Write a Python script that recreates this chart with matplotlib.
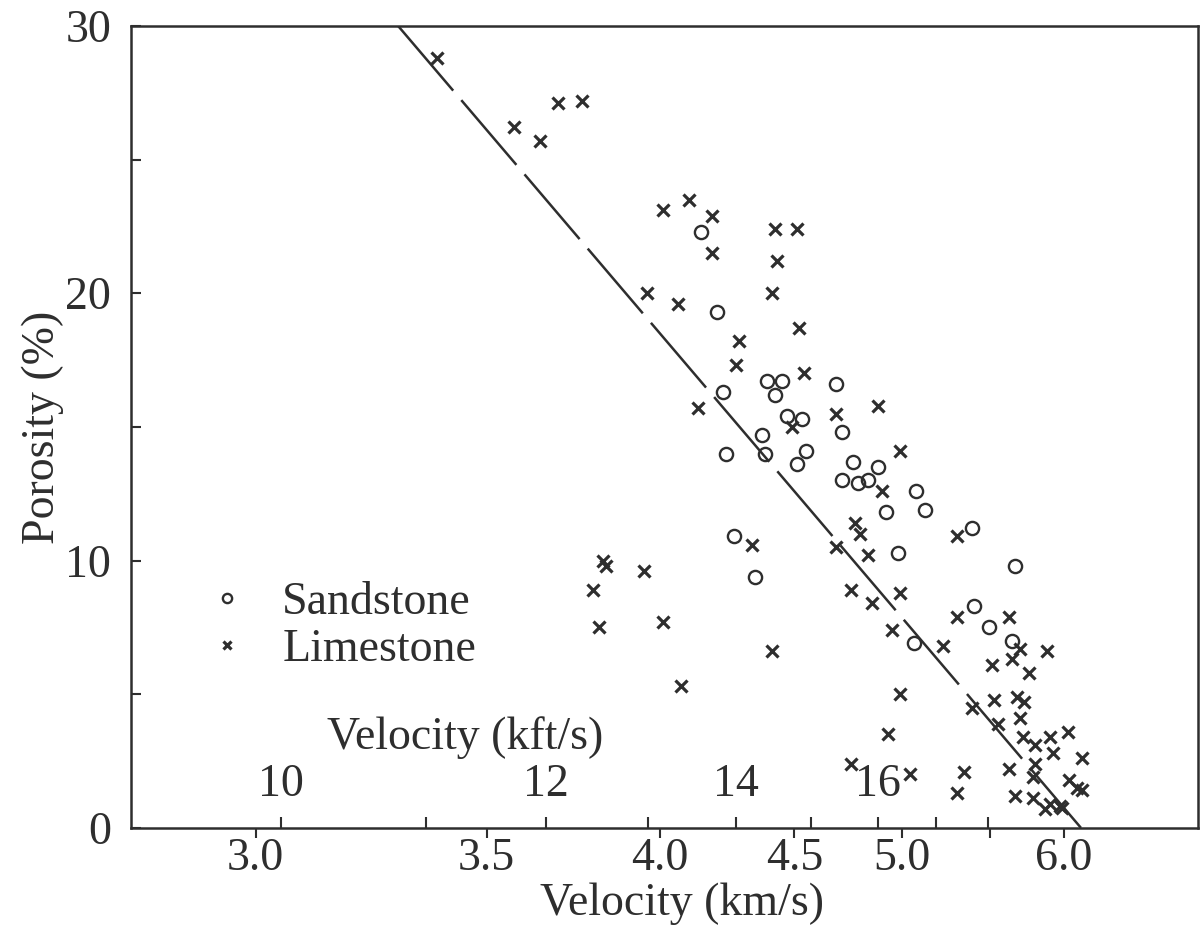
import numpy as np
import matplotlib
matplotlib.use("Agg")
from matplotlib import pyplot as plt

# velocity in km/s, porosity in %
sand_vel = [4.14, 4.20, 4.22, 4.39, 4.45, 4.42, 4.68, 4.47, 4.53, 4.37, 4.71,
            4.23, 4.38, 4.55, 4.51, 4.76, 4.88, 4.71, 4.78, 4.83, 5.07, 4.92,
            5.12, 4.98, 5.39, 5.66, 5.40, 5.49, 5.64, 5.06, 4.26, 4.34]
sand_por = [22.3, 19.3, 16.3, 16.7, 16.7, 16.2, 16.6, 15.4, 15.3, 14.7, 14.8,
            14.0, 14.0, 14.1, 13.6, 13.7, 13.5, 13.0, 12.9, 13.0, 12.6, 11.8,
            11.9, 10.3, 11.2, 9.8, 8.3, 7.5, 7.0, 6.9, 10.9, 9.4]

lime_vel = [3.38, 3.57, 3.64, 3.69, 3.76, 4.01, 4.10, 4.18, 4.18, 4.42, 4.51,
            4.43, 4.41, 3.96, 4.06, 4.52, 4.28, 4.27, 4.54, 4.88, 4.13, 4.68,
            4.49, 4.99, 4.90, 4.77, 4.79, 4.68, 4.83, 5.30, 4.33, 3.82, 3.83,
            3.95, 3.79, 3.81, 4.01, 4.41, 4.07, 4.75, 4.99, 4.85, 4.95, 5.30,
            5.62, 5.22, 5.69, 5.64, 5.88, 5.51, 5.75, 4.99, 5.52, 5.67, 5.72,
            5.39, 5.69, 5.55, 4.93, 5.71, 5.79, 5.90, 6.03, 5.92, 5.79, 5.62,
            6.14, 4.75, 5.04, 5.34, 5.30, 6.04, 6.10, 5.78, 5.66, 5.78, 6.14,
            5.90, 5.97, 5.99, 5.86]
lime_por = [28.8, 26.2, 25.7, 27.1, 27.2, 23.1, 23.5, 22.9, 21.5, 22.4, 22.4,
            21.2, 20.0, 20.0, 19.6, 18.7, 18.2, 17.3, 17.0, 15.8, 15.7, 15.5,
            15.0, 14.1, 12.6, 11.4, 11.0, 10.5, 10.2, 10.9, 10.6, 10.0, 9.8,
            9.6, 8.9, 7.5, 7.7, 6.6, 5.3, 8.9, 8.8, 8.4, 7.4, 7.9,
            7.9, 6.8, 6.7, 6.3, 6.6, 6.1, 5.8, 5.0, 4.8, 4.9, 4.7,
            4.5, 4.1, 3.9, 3.5, 3.4, 3.1, 3.4, 3.6, 2.8, 2.4, 2.2,
            2.6, 2.4, 2.0, 2.1, 1.3, 1.8, 1.5, 1.9, 1.2, 1.1, 1.4,
            0.9, 0.8, 0.75, 0.7]

# time-average line
line_vel = [3.29, 6.13]
line_por = [30, 0]

kms_ticks = [3.0, 3.5, 4.0, 4.5, 5.0, 5.5, 6.0]
kms_labels = ["3.0", "3.5", "4.0", "4.5", "5.0", "", "6.0"]
kft_ticks = [10, 11, 12, 13, 14, 15, 16, 17, 18]
kft_labels = ["10", "", "12", "", "14", "", "16", "", ""]
KFT_TO_KM = 0.3048

INK = "#2e2e2e"


def slowness(v):
    with np.errstate(divide="ignore"):
        return -1.0 / np.asarray(v, dtype=float)


def from_slowness(s):
    with np.errstate(divide="ignore"):
        return -1.0 / np.asarray(s, dtype=float)


def make_plot(out="out.png"):
    plt.rcParams["font.family"] = ["Liberation Serif", "DejaVu Serif"]
    plt.rcParams["font.size"] = 33
    plt.rcParams["text.color"] = INK
    plt.rcParams["axes.labelcolor"] = INK

    fig = plt.figure(figsize=(12, 9.25), dpi=100)
    ax = fig.add_axes([0.109, 0.105, 0.889, 0.867])
    ax.set_xscale("function", functions=(slowness, from_slowness))
    ax.set_xlim(2.785, 7.19)
    ax.set_ylim(0, 30)

    ax.plot(line_vel, line_por, color=INK, lw=1.8, dashes=(34, 5))
    ax.plot(sand_vel, sand_por, "o", ms=9.5, mfc="none", mec=INK, mew=1.7,
            label="Sandstone")
    ax.plot(lime_vel, lime_por, "x", ms=8, mec=INK, mew=2.3, label="Limestone")

    for s in ax.spines.values():
        s.set_linewidth(1.8)
        s.set_color(INK)

    ax.set_xticks(kms_ticks, kms_labels)
    ax.tick_params(axis="x", direction="out", length=7, width=1.5, pad=0,
                   colors=INK)
    ax.set_yticks([0, 10, 20, 30])
    ax.set_yticks([5, 15, 25], minor=True)
    ax.tick_params(axis="y", which="both", direction="in", length=7,
                   width=1.5, pad=14, colors=INK)

    # kft/s scale drawn on the same bottom line, ticks pointing inward
    ax2 = ax.twiny()
    ax2.set_xscale("function", functions=(slowness, from_slowness))
    ax2.set_xlim(ax.get_xlim())
    ax2.set_xticks(np.array(kft_ticks) * KFT_TO_KM, kft_labels)
    ax2.xaxis.set_ticks_position("bottom")
    ax2.xaxis.set_label_position("bottom")
    ax2.tick_params(axis="x", direction="in", length=8, width=1.5, pad=-46,
                    colors=INK)
    for s in ax2.spines.values():
        s.set_visible(False)
    ax2.set_xlabel("Velocity (kft/s)", va="center")
    ax2.xaxis.set_label_coords(0.313, 0.112)

    ax.set_xlabel("Velocity (km/s)")
    ax.xaxis.set_label_coords(0.517, -0.068)
    ax.set_ylabel("Porosity (%)")
    ax.yaxis.set_label_coords(-0.063, 0.5)

    ax.legend(loc="upper left", bbox_to_anchor=(0.069, 0.307), frameon=False,
              markerscale=0.7, handlelength=1.0, handletextpad=0.7,
              labelspacing=0.1, borderaxespad=0, borderpad=0)

    fig.savefig(out, dpi=100)
    plt.close(fig)


if __name__ == "__main__":
    make_plot()
